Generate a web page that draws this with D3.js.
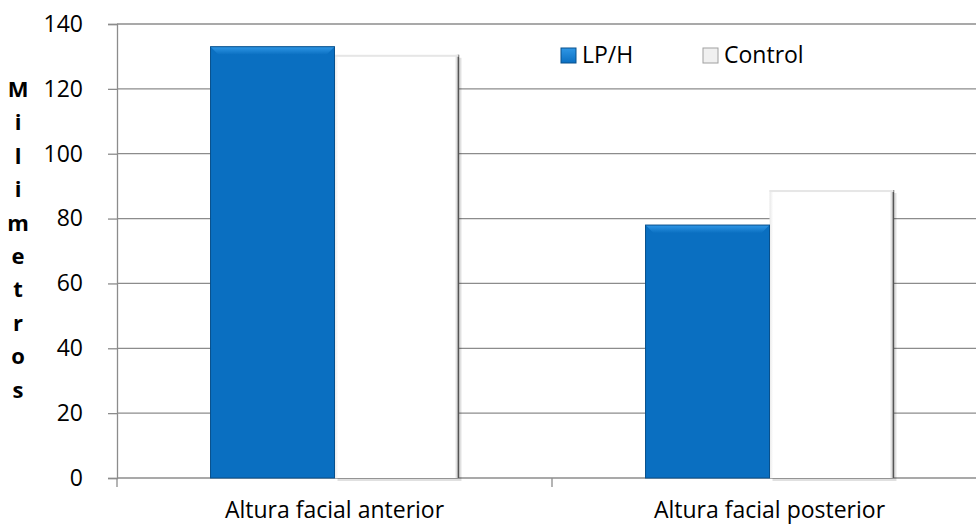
<!DOCTYPE html>
<html>
<head>
<meta charset="utf-8">
<script src="https://cdn.jsdelivr.net/npm/d3@7"></script>
<style>
  body { margin: 0; background: #fff; }
  svg text { font-family: "Open Sans", Lato, sans-serif; fill: #000; }
</style>
</head>
<body>
<div id="chart"></div>
<script>
// data
const categories = ["Altura facial anterior", "Altura facial posterior"];
const seriesNames = ["LP/H", "Control"];
const lphValues = [133, 78];
const controlValues = [130.5, 88.8];
const yTicks = [0, 20, 40, 60, 80, 100, 120, 140];
const yLabel = "Milimetros";

const width = 976, height = 525;
const margin = { top: 24, right: -11, bottom: 47, left: 117 };
const fontSize = 23;

const svg = d3.select("#chart").append("svg")
    .attr("width", width)
    .attr("height", height);

const defs = svg.append("defs");

// gradients for the bevel look
const blueTop = defs.append("linearGradient").attr("id", "blueTop")
    .attr("x1", 0).attr("y1", 0).attr("x2", 0).attr("y2", 1);
blueTop.append("stop").attr("offset", "0%").attr("stop-color", "#2f97e6");
blueTop.append("stop").attr("offset", "100%").attr("stop-color", "#0a6fc1");

const whiteSide = defs.append("linearGradient").attr("id", "whiteSide")
    .attr("x1", 0).attr("y1", 0).attr("x2", 1).attr("y2", 0);
whiteSide.append("stop").attr("offset", "0%").attr("stop-color", "#e8e8e8");
whiteSide.append("stop").attr("offset", "3%").attr("stop-color", "#ffffff");
whiteSide.append("stop").attr("offset", "97%").attr("stop-color", "#ffffff");
whiteSide.append("stop").attr("offset", "100%").attr("stop-color", "#bdbdbd");

const x0 = d3.scaleBand()
    .domain(categories)
    .range([margin.left, width - margin.right])
    .paddingInner(0.43)
    .paddingOuter(0.215);

const x1 = d3.scaleBand()
    .domain(seriesNames)
    .range([0, x0.bandwidth()]);

const y = d3.scaleLinear()
    .domain([0, 140])
    .range([height - margin.bottom, margin.top]);

// gridlines
svg.append("g")
    .selectAll("line")
    .data(yTicks.filter(d => d > 0))
    .enter().append("line")
    .attr("x1", margin.left).attr("x2", width)
    .attr("y1", d => y(d)).attr("y2", d => y(d))
    .attr("stroke", "#8c8c8c")
    .attr("stroke-width", 1.3);

// y axis
const yAxis = svg.append("g")
    .attr("transform", `translate(${margin.left},0)`)
    .call(d3.axisLeft(y).tickValues(yTicks).tickSize(9).tickPadding(25));
yAxis.attr("font-size", null).attr("font-family", null);
yAxis.select(".domain").attr("stroke", "#8c8c8c").attr("stroke-width", 1.3);
yAxis.selectAll(".tick line").attr("stroke", "#8c8c8c").attr("stroke-width", 1.3);
yAxis.selectAll("text").attr("font-size", fontSize);

// x axis
const xAxisG = svg.append("g").attr("transform", `translate(0,${y(0)})`);
xAxisG.append("line")
    .attr("x1", margin.left).attr("x2", width)
    .attr("stroke", "#8c8c8c").attr("stroke-width", 1.3);
const step = x0.step();
const boundaries = [margin.left, margin.left + step];
xAxisG.selectAll(".bt")
    .data(boundaries)
    .enter().append("line")
    .attr("x1", d => d).attr("x2", d => d)
    .attr("y1", 0).attr("y2", 9)
    .attr("stroke", "#8c8c8c").attr("stroke-width", 1.3);
xAxisG.selectAll(".cat")
    .data(categories)
    .enter().append("text")
    .attr("x", d => x0(d) + x0.bandwidth() / 2)
    .attr("y", 40)
    .attr("text-anchor", "middle")
    .attr("font-size", fontSize)
    .text(d => d);

// bars
const rows = categories.map((c, i) => ({ cat: c, values: [
    { key: "LP/H", value: lphValues[i] },
    { key: "Control", value: controlValues[i] }
]}));

const groups = svg.append("g").selectAll("g")
    .data(rows)
    .enter().append("g")
    .attr("transform", d => `translate(${x0(d.cat)},0)`);

groups.each(function(d) {
    const g = d3.select(this);
    // control bar first (behind), then LP/H
    const c = d.values[1];
    const cx = x1(c.key), cw = x1.bandwidth(), cy = y(c.value), ch = y(0) - y(c.value);
    g.append("rect")
        .attr("x", cx + 3).attr("y", cy + 3).attr("width", cw).attr("height", ch)
        .attr("fill", "#000").attr("opacity", 0.12);
    g.append("rect")
        .attr("x", cx).attr("y", cy).attr("width", cw).attr("height", ch)
        .attr("fill", "url(#whiteSide)");
    g.append("line")
        .attr("x1", cx + cw).attr("x2", cx + cw).attr("y1", cy).attr("y2", cy + ch)
        .attr("stroke", "#555").attr("stroke-width", 1.5);
    g.append("rect")
        .attr("x", cx).attr("y", cy).attr("width", cw).attr("height", 2)
        .attr("fill", "#e6e6e6");

    const b = d.values[0];
    const bx = x1(b.key), bw = x1.bandwidth(), by = y(b.value), bh = y(0) - y(b.value);
    g.append("rect")
        .attr("x", bx).attr("y", by).attr("width", bw).attr("height", bh)
        .attr("fill", "#0a6fc1");
    // top bevel trapezoid
    const bev = 8;
    g.append("path")
        .attr("d", `M${bx},${by} L${bx + bw},${by} L${bx + bw - bev},${by + bev} L${bx + bev},${by + bev} Z`)
        .attr("fill", "url(#blueTop)");
    g.append("rect")
        .attr("x", bx).attr("y", by).attr("width", bw).attr("height", bh)
        .attr("fill", "none").attr("stroke", "#08508c").attr("stroke-width", 1);
});

// y label, stacked letters
svg.append("g").selectAll("text")
    .data(yLabel.split(""))
    .enter().append("text")
    .attr("x", 18)
    .attr("y", (d, i) => 97 + i * 33.4)
    .attr("text-anchor", "middle")
    .attr("font-size", 22)
    .attr("font-weight", "bold")
    .text(d => d);

// legend
const legendX = [561, 703];
const legend = svg.append("g").selectAll("g")
    .data(seriesNames)
    .enter().append("g")
    .attr("transform", (d, i) => `translate(${legendX[i]},48)`);
legend.append("rect")
    .attr("width", 15).attr("height", 15)
    .attr("fill", (d, i) => i === 0 ? "url(#blueTop)" : "#f0f0f0")
    .attr("stroke", (d, i) => i === 0 ? "#08508c" : "#a0a0a0")
    .attr("stroke-width", 1);
legend.append("text")
    .attr("x", 21).attr("y", 15)
    .attr("font-size", fontSize)
    .text(d => d);
</script>
</body>
</html>
